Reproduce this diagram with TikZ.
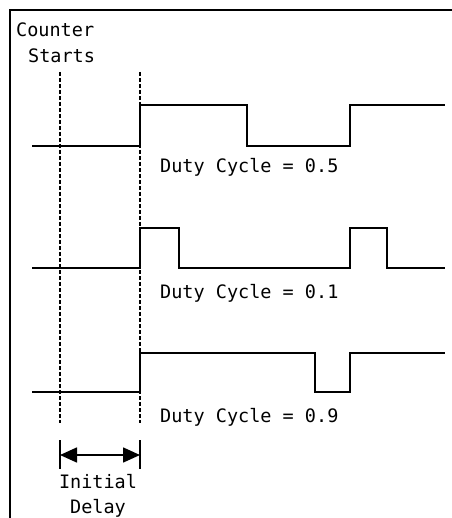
\documentclass[tikz,border=0pt]{standalone}
\usepackage{fontspec}
\setmainfont{DejaVu Sans Mono}
\usetikzlibrary{arrows.meta}
\begin{document}
\begin{tikzpicture}[x=1pt,y=-1pt,
  sig/.style={line width=1.6pt,line join=miter},
  guide/.style={line width=1.4pt,dash pattern=on 4pt off 2pt},
  lbl/.style={anchor=base west,inner sep=0pt,font=\fontsize{18.5}{20}\selectfont},
  clbl/.style={anchor=base,inner sep=0pt,font=\fontsize{18.5}{20}\selectfont},
  tick/.style={line width=1.6pt},
  dim/.style={line width=1.6pt,{Triangle[length=17pt,width=15pt]}-{Triangle[length=17pt,width=15pt]}}]
\useasboundingbox (0,0) rectangle (451,518);
% frame (top and left)
\draw[line width=2pt] (455,10) -- (10,10) -- (10,522);
% labels
\node[lbl] (counter) at (16,37) {Counter};
\node[lbl] (starts) at (28,63) {Starts};
% guides
\coordinate (g1t) at (60,72);
\coordinate (g1b) at (60,423);
\coordinate (g2t) at (140,72);
\coordinate (g2b) at (140,423);
\draw[guide] (g1t) -- (g1b);
\draw[guide] (g2t) -- (g2b);
% signal 1 (duty 0.5)
\draw[sig] (32,146) -- (140,146) -- (140,105) -- (247,105) -- (247,146) -- (350,146) -- (350,105) -- (445,105);
\node[lbl] (d1) at (160,173) {Duty Cycle = 0.5};
% signal 2 (duty 0.1)
\draw[sig] (32,268) -- (140,268) -- (140,228) -- (179,228) -- (179,268) -- (350,268) -- (350,228) -- (387,228) -- (387,268) -- (445,268);
\node[lbl] (d2) at (160,298) {Duty Cycle = 0.1};
% signal 3 (duty 0.9)
\draw[sig] (32,392) -- (140,392) -- (140,353) -- (315,353) -- (315,392) -- (350,392) -- (350,353) -- (445,353);
\node[lbl] (d3) at (160,422) {Duty Cycle = 0.9};
% initial delay dimension
\coordinate (t1a) at (60,440);
\coordinate (t1b) at (60,469);
\coordinate (t2a) at (140,440);
\coordinate (t2b) at (140,469);
\draw[tick] (t1a) -- (t1b);
\draw[tick] (t2a) -- (t2b);
\coordinate (a1) at (60,455);
\coordinate (a2) at (140,455);
\draw[dim] (a1) -- (a2);
\node[clbl] (init) at (98,488) {Initial};
\node[clbl] (delay) at (98,513) {Delay};
\end{tikzpicture}
\end{document}
